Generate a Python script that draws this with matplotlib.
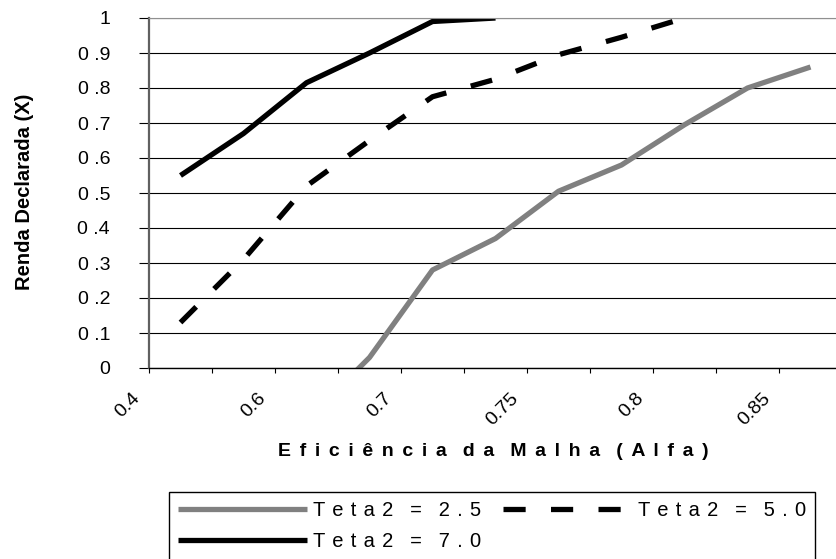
import numpy as np
import matplotlib.pyplot as plt
from matplotlib.transforms import ScaledTranslation

plt.rcParams['font.family'] = ['Liberation Sans', 'DejaVu Sans']

nan = np.nan
# eficiencia da malha (categorias), rotulo mostrado a cada duas categorias
n_cat = 11
alfa_lbl = ['0.4', '0.6', '0.7', '0.75', '0.8', '0.85']

# renda declarada para cada teta2
teta25 = [nan, nan, -0.15, 0.03, 0.28, 0.37, 0.505, 0.58, 0.695, 0.80, 0.86]
teta50 = [0.13, 0.31, 0.52, 0.65, 0.775, 0.825, 0.895, 0.945, 1.0, nan, nan]
teta70 = [0.55, 0.67, 0.815, 0.90, 0.99, 1.0, nan, nan, nan, nan, nan]
nomes = ['Teta2 = 2.5', 'Teta2 = 5.0', 'Teta2 = 7.0']

y_ticks = np.arange(0, 1.01, 0.1)
y_lbl = ['0'] + ['0 .%d' % i for i in range(1, 10)] + ['1']


def espacado(s, fino=' \u200a\u200a'):
    # texto com espacamento entre letras
    return '   '.join(fino.join(w) for w in s.split(' '))


W, H = 837, 559
fig = plt.figure(figsize=(W/100, H/100), dpi=100)
ax = fig.add_axes([149/W, 1-368/H, 693/W, 350/H])

x = np.arange(n_cat)
l25, = ax.plot(x, teta25, color='#808080', lw=3.8, solid_capstyle='butt')
l50, = ax.plot(x, teta50, color='black', lw=3.8, dashes=(4.2, 4.8), dash_capstyle='butt')
l70, = ax.plot(x, teta70, color='black', lw=3.8, solid_capstyle='butt')

ax.set_xlim(-0.5, n_cat - 0.5)
ax.set_ylim(0, 1)

ax.set_yticks(y_ticks)
ax.set_yticklabels(y_lbl, fontsize=14)
ax.tick_params(axis='y', direction='out', length=7, width=0.8, pad=21)
ax.grid(axis='y', color='black', lw=0.8)

# marcas entre categorias, rotulos a cada duas
ax.set_xticks(np.arange(-0.5, n_cat, 1.0), minor=True)
ax.set_xticks(np.arange(0, n_cat, 2))
ax.set_xticklabels(alfa_lbl, fontsize=14, rotation=45, ha='right', va='center',
                   rotation_mode='anchor')
ax.tick_params(axis='x', which='minor', direction='out', length=3.8, width=0.8)
ax.tick_params(axis='x', which='major', length=0, pad=20)
shift = ScaledTranslation(-0.43, 0, fig.dpi_scale_trans)
for t in ax.get_xticklabels():
    t.set_transform(t.get_transform() + shift)

ax.spines['left'].set_color('#606060')
ax.spines['left'].set_linewidth(1.6)
ax.spines['bottom'].set_linewidth(1.0)
ax.spines['top'].set_color('#909090')
ax.spines['right'].set_visible(False)

ax.set_xlabel(espacado('Eficiência da Malha (Alfa)'), fontsize=14, fontweight='bold')
ax.xaxis.set_label_coords((493-149)/693, (368-451)/350)
ax.xaxis.label.set_va('center')
fig.text(25/W, 1-192/H, 'Renda Declarada (X)', rotation=90, ha='center', va='center',
         fontsize=14.5, fontweight='bold')

leg_txt = [espacado(s, ' \u200a') for s in nomes]
leg = fig.legend([l25, l70, l50], [leg_txt[0], leg_txt[2], leg_txt[1]],
                 ncol=2, loc='upper left', bbox_to_anchor=(169/W, 1-492/H),
                 fontsize=14.5, handlelength=6.4, handletextpad=0.3, columnspacing=1.1,
                 labelspacing=0.6, borderpad=0.45, borderaxespad=0, fancybox=False,
                 edgecolor='black', framealpha=1)
leg.get_frame().set_linewidth(1.0)

fig.savefig('out.png', dpi=100)
